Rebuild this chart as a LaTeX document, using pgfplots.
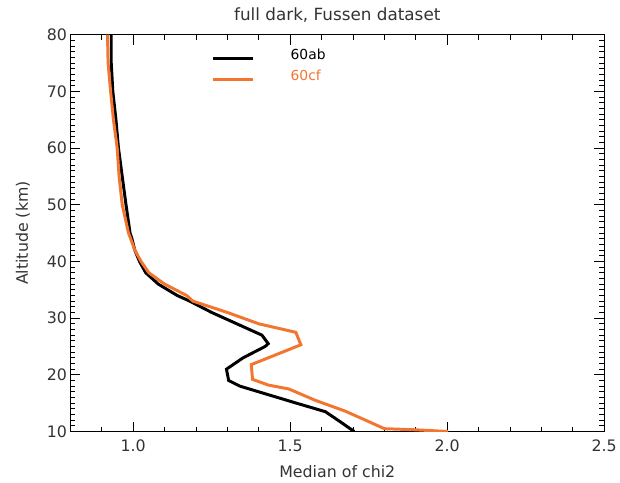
\documentclass[border=0pt]{standalone}
\usepackage{fontspec}
\setmainfont{DejaVu Sans}
\usepackage{pgfplots}
\pgfplotsset{compat=1.18}
\definecolor{idlorange}{RGB}{242,118,48}

\begin{document}
\begin{tikzpicture}
\begin{axis}[
    scale only axis,
    width=538bp, height=400bp,
    xmin=0.8, xmax=2.5, ymin=10, ymax=80,
    xtick={1.0,1.5,2.0,2.5},
    minor xtick={0.9,1.1,1.2,1.3,1.4,1.6,1.7,1.8,1.9,2.1,2.2,2.3,2.4},
    ytick={10,20,...,80},
    minor y tick num=9,
    tick align=inside,
    major tick length=10bp, minor tick length=5bp,
    every tick/.style={black, line width=0.8bp},
    axis line style={line width=0.9bp},
    /pgf/number format/assume math mode=true,
    tick label style={font=\fontsize{16}{18}\selectfont, color=black!80},
    xticklabel style={yshift=-5bp, /pgf/number format/fixed,
        /pgf/number format/fixed zerofill, /pgf/number format/precision=1},
    label style={font=\fontsize{16}{18}\selectfont, color=black!80},
    ylabel style={at={(axis description cs:-0.089,0.5)}, anchor=center},
    xlabel style={at={(axis description cs:0.5,-0.1)}, anchor=center},
    title style={font=\fontsize{17}{19}\selectfont, color=black!80,
        at={(axis description cs:0.5,1)}, anchor=center, yshift=14bp},
    title={full dark, Fussen dataset},
    xlabel={Median of chi2},
    ylabel={Altitude (km)},
    legend style={draw=none, fill=none, at={(0.259,0.975)}, anchor=north west,
        font=\fontsize{14}{16}\selectfont, row sep=5bp},
    legend cell align=left,
    legend image code/.code={\draw[#1] (0bp,-4bp) -- (40bp,-4bp);
        \path[draw=none] (0bp,0bp) -- (76bp,0bp);},
]
\addplot[black, line width=3bp] coordinates {
    (0.930,80) (0.930,75) (0.935,70) (0.945,65) (0.953,60) (0.965,55)
    (0.977,50) (0.990,45) (0.996,44) (1.005,42) (1.020,40) (1.040,38)
    (1.080,36) (1.140,34) (1.180,33) (1.250,31) (1.330,29) (1.410,27)
    (1.430,25.5) (1.420,25) (1.350,23) (1.297,21) (1.304,19) (1.340,18)
    (1.400,17) (1.520,15) (1.612,13.5) (1.660,11.7) (1.704,10)
};
\addlegendentry{60ab}
\addplot[idlorange, line width=3bp] coordinates {
    (0.918,80) (0.920,75) (0.928,70) (0.937,65) (0.949,60) (0.955,55)
    (0.965,50) (0.985,45) (0.992,44) (1.005,42) (1.025,40) (1.050,38)
    (1.100,36) (1.170,34) (1.190,33) (1.300,31) (1.400,29) (1.518,27.5)
    (1.534,25.3) (1.430,23) (1.376,21.8) (1.380,19.2) (1.430,18.2)
    (1.496,17.5) (1.580,15.5) (1.675,13.6) (1.740,12) (1.800,10.5)
    (1.900,10.3) (2.003,10)
};
\addlegendentry{\textcolor{idlorange}{60cf}}
\end{axis}
\path ([yshift=35bp]current axis.north);
\path ([yshift=-51bp]current axis.south);
\path ([xshift=-71bp]current axis.west);
\end{tikzpicture}
\end{document}
